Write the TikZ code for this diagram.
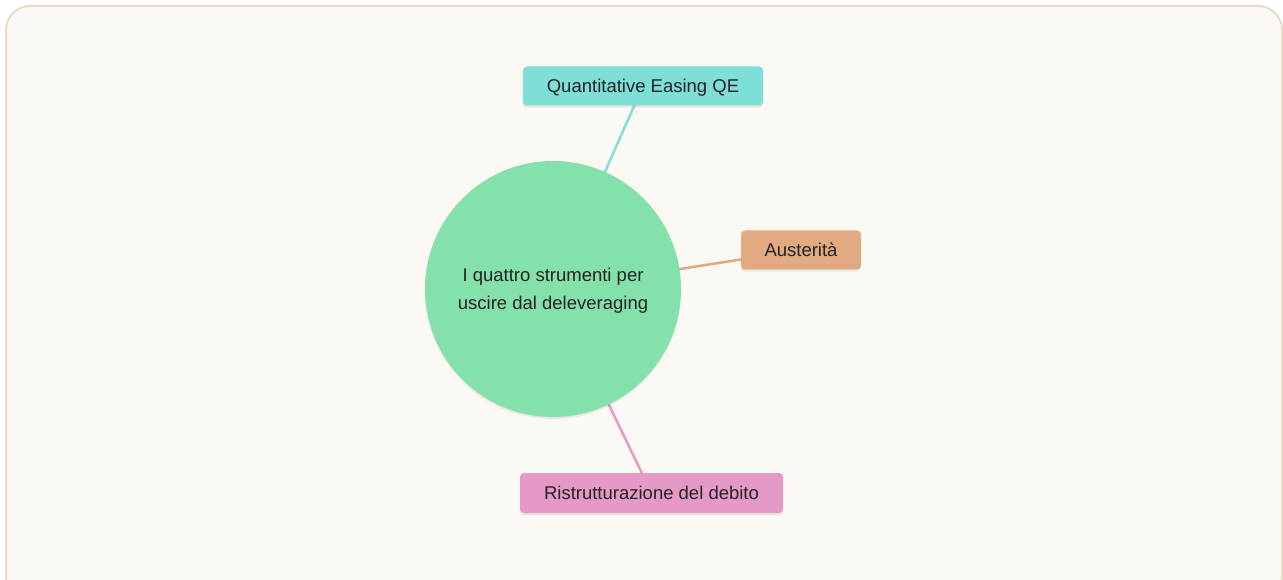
\documentclass[tikz,border=0pt]{standalone}
\usepackage{fontspec}
\setmainfont{Liberation Sans}
\usetikzlibrary{shadows}
\definecolor{bgfill}{HTML}{FCF9F4}
\definecolor{bgline}{HTML}{E8DCCB}
\definecolor{centerc}{HTML}{84E1AC}
\definecolor{qec}{HTML}{7EDFD9}
\definecolor{ausc}{HTML}{E2AA80}
\definecolor{ristc}{HTML}{E599C6}
\definecolor{txt}{HTML}{222222}
\tikzset{
  leaf/.style={rectangle, rounded corners=4pt, minimum height=39pt, inner sep=0pt,
    text=txt, font=\fontsize{18.5pt}{22pt}\selectfont, text depth=0pt,
    drop shadow={opacity=0.15, shadow xshift=0pt, shadow yshift=-2pt, fill=black!60}},
  hub/.style={circle, minimum size=256pt, inner sep=0pt, fill=centerc, text=txt,
    align=center, font=\fontsize{18.5pt}{28pt}\selectfont, text depth=0pt,
    drop shadow={opacity=0.12, shadow xshift=0pt, shadow yshift=-2pt, fill=black!60}},
  link/.style={line width=2.5pt}
}
\begin{document}
\begin{tikzpicture}[x=1pt,y=-1pt]
\useasboundingbox (0,0) rectangle (1283,580);
\begin{scope}
\clip (0,0) rectangle (1283,580);
\draw[bgline, fill=bgfill, line width=2pt, rounded corners=24pt] (6,6) rectangle (1282,600);
\end{scope}
\coordinate (cpos) at (553,289);
\coordinate (qepos) at (643,86);
\coordinate (auspos) at (801,250);
\coordinate (ristpos) at (651.5,493);
\draw[link, qec] (cpos) -- (qepos);
\draw[link, ausc] (cpos) -- (auspos);
\draw[link, ristc] (cpos) -- (ristpos);
\node[leaf, fill=qec, minimum width=240pt] (qe) at (qepos) {Quantitative Easing QE};
\node[leaf, fill=ausc, minimum width=120pt] (aus) at (auspos) {Austerità};
\node[leaf, fill=ristc, minimum width=263pt, minimum height=40pt] (rist) at (ristpos) {Ristrutturazione del debito};
\node[hub] (c) at (cpos) {I quattro strumenti per\\uscire dal deleveraging};
\end{tikzpicture}
\end{document}
